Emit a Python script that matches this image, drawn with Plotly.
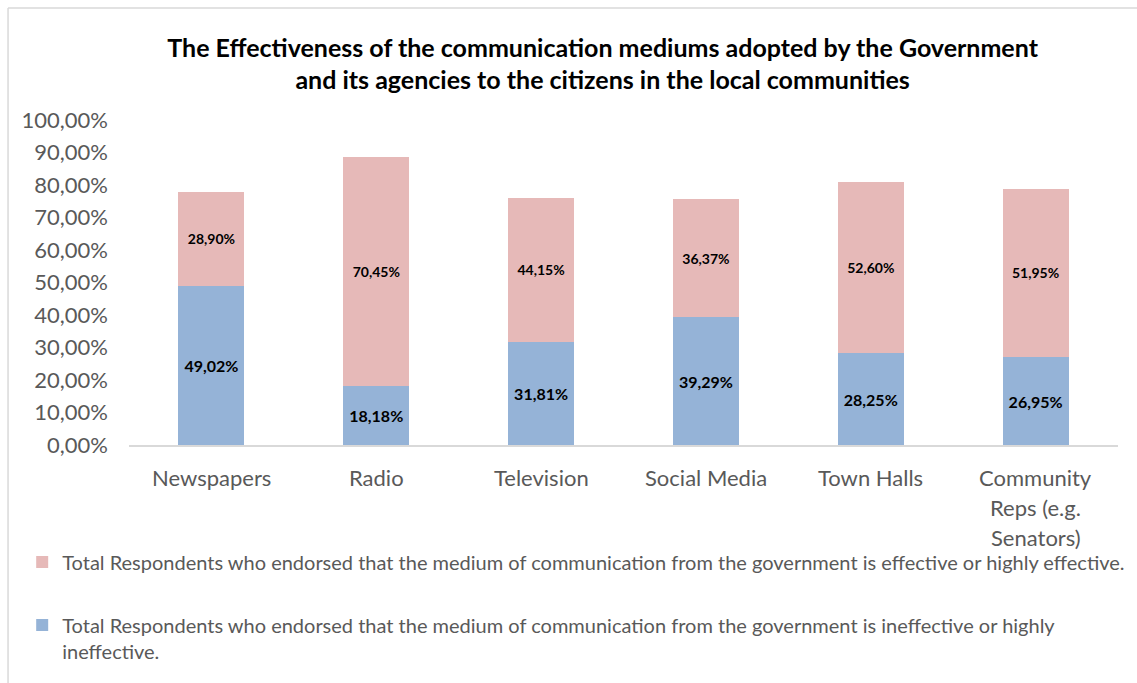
import plotly.graph_objects as go

# Communication mediums surveyed
categories = ["Newspapers", "Radio", "Television", "Social Media", "Town Halls",
              "Community Reps (e.g. Senators)"]
# Category labels as they wrap under the axis
category_lines = [["Newspapers"], ["Radio"], ["Television"], ["Social Media"],
                  ["Town Halls"], ["Community", "Reps (e.g.", "Senators)"]]

# Share of respondents per medium (fractions)
ineffective = [0.4902, 0.1818, 0.3181, 0.3929, 0.2825, 0.2695]
effective = [0.2890, 0.7045, 0.4415, 0.3637, 0.5260, 0.5195]

y_ticks = [0.0, 0.1, 0.2, 0.3, 0.4, 0.5, 0.6, 0.7, 0.8, 0.9, 1.0]

name_ineffective = ("Total Respondents who endorsed that the medium of communication from the "
                    "government is ineffective or highly<br>ineffective.")
name_effective = ("Total Respondents who endorsed that the medium of communication from the "
                  "government is effective or highly effective.")

FONT = "Lato, Calibri, Arial, sans-serif"
GREY = "#595959"

fig = go.Figure()
fig.add_trace(go.Bar(
    x=categories, y=ineffective, name=name_ineffective,
    marker=dict(color="#95B3D7", line=dict(width=0)),
    texttemplate="%{y:.2%}", textposition="inside", insidetextanchor="middle",
    textfont=dict(family=FONT, size=16, color="#000000", weight="bold"),
    legendgroup="b", legendrank=2, width=0.4,
))
fig.add_trace(go.Bar(
    x=categories, y=effective, name=name_effective,
    marker=dict(color="#E6B9B8", line=dict(width=0)),
    texttemplate="%{y:.2%}", textposition="inside", insidetextanchor="middle",
    textfont=dict(family=FONT, size=14, color="#000000", weight="bold"),
    legendgroup="a", legendrank=1, width=0.4,
))

# Wrapped category labels below the axis
annotations = []
for cat, lines in zip(categories, category_lines):
    for i, line in enumerate(lines):
        annotations.append(dict(
            x=cat, xref="x", y=0, yref="paper", text=line, showarrow=False,
            yanchor="middle", yshift=-32 - 30 * i,
            font=dict(family=FONT, size=22, color=GREY),
        ))

fig.update_layout(
    width=1137, height=683,
    autosize=False,
    separators=",.",
    barmode="stack",
    bargap=0.6,
    paper_bgcolor="#FFFFFF",
    plot_bgcolor="#FFFFFF",
    margin=dict(l=129, r=19, t=120, b=235),
    title=dict(
        text="The Effectiveness of the communication mediums adopted by the Government"
             "<br>and its agencies to the citizens in the local communities",
        x=0.53, xanchor="center", y=0.917, yanchor="middle",
        font=dict(family=FONT, size=25, color="#000000", weight="bold"),
    ),
    xaxis=dict(
        showticklabels=False, showgrid=False, zeroline=False,
        showline=True, linecolor="#D9D9D9", linewidth=1.5,
        range=[-0.5, 5.5],
    ),
    yaxis=dict(
        range=[0, 1], tickvals=y_ticks, tickformat=".2%",
        showgrid=False, zeroline=False, showline=False,
        tickfont=dict(family=FONT, size=22, color=GREY),
        ticklabelstandoff=20,
    ),
    legend=dict(
        orientation="v", x=-0.108, xanchor="left", y=-0.3, yanchor="top",
        traceorder="grouped", tracegroupgap=34, valign="top",
        font=dict(family=FONT, size=20, color=GREY),
        bgcolor="rgba(0,0,0,0)",
    ),
    annotations=annotations,
    shapes=[
        dict(type="line", xref="paper", yref="paper", x0=-0.1223, x1=1.3,
             y0=1.3445, y1=1.3445, line=dict(color="#D9D9D9", width=1.5)),
        dict(type="line", xref="paper", yref="paper", x0=-0.1223, x1=-0.1223,
             y0=1.3445, y1=-0.8, line=dict(color="#D9D9D9", width=1.5)),
    ],
)

fig.write_html("out.html")
